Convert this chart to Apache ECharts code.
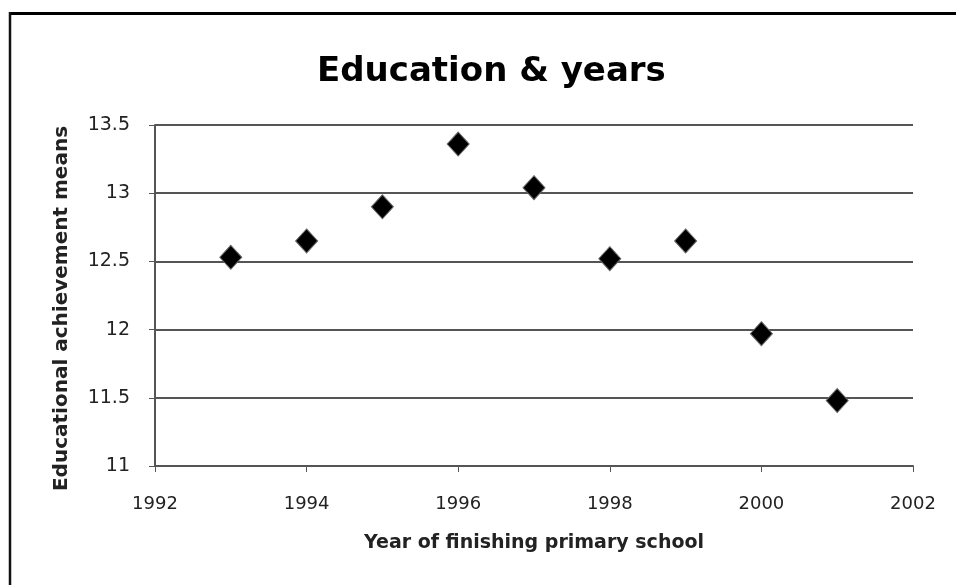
<!DOCTYPE html>
<html>
<head>
<meta charset="utf-8">
<title>Education & years</title>
<script src="https://cdn.jsdelivr.net/npm/echarts@6/dist/echarts.min.js"></script>
<style>
  html, body { margin: 0; padding: 0; background: #fff; }
  #chart { width: 956px; height: 585px; }
</style>
</head>
<body>
<div id="chart"></div>
<script>
// Year of finishing primary school
const years = [1993, 1994, 1995, 1996, 1997, 1998, 1999, 2000, 2001];
// Mean educational achievement for each year
const achievementMeans = [12.53, 12.65, 12.90, 13.36, 13.04, 12.52, 12.65, 11.97, 11.48];

const FONT = '"DejaVu Sans", "Open Sans", sans-serif';

const chart = echarts.init(document.getElementById('chart'), null, { renderer: 'canvas' });

chart.setOption({
  backgroundColor: '#ffffff',
  animation: false,
  title: {
    text: 'Education & years',
    left: 312,
    top: 50,
    textStyle: { fontFamily: FONT, fontWeight: 'bold', fontSize: 34, color: '#000' }
  },
  graphic: [
    // chart frame: top and left edges
    { type: 'line', shape: { x1: 9, y1: 13.5, x2: 956, y2: 13.5 }, style: { stroke: '#000', lineWidth: 3 } },
    { type: 'line', shape: { x1: 10, y1: 12, x2: 10, y2: 585 }, style: { stroke: '#111', lineWidth: 2.5 } }
  ],
  grid: { left: 155, right: 43, top: 125, bottom: 119 },
  xAxis: {
    type: 'value',
    min: 1992,
    max: 2002,
    interval: 2,
    name: 'Year of finishing primary school',
    nameLocation: 'middle',
    nameGap: 68,
    nameTextStyle: { fontFamily: FONT, fontWeight: 'bold', fontSize: 19, color: '#222' },
    axisLine: { show: true, lineStyle: { color: '#555', width: 2 } },
    axisTick: { show: true, length: 6, lineStyle: { color: '#555', width: 1 } },
    axisLabel: { fontFamily: FONT, fontSize: 18, color: '#222', margin: 29, formatter: v => String(v) },
    splitLine: { show: false }
  },
  yAxis: {
    type: 'value',
    min: 11,
    max: 13.5,
    interval: 0.5,
    name: 'Educational achievement means',
    nameLocation: 'middle',
    nameGap: 83,
    nameTextStyle: { fontFamily: FONT, fontWeight: 'bold', fontSize: 20, color: '#222', padding: [0, 26, 0, 0] },
    axisLine: { show: true, lineStyle: { color: '#555', width: 2 } },
    axisTick: { show: true, length: 6, lineStyle: { color: '#555', width: 1 } },
    axisLabel: { fontFamily: FONT, fontSize: 19, color: '#222', margin: 25 },
    splitLine: { show: true, lineStyle: { color: '#555', width: 2 } }
  },
  series: [{
    type: 'scatter',
    data: years.map((y, i) => [y, achievementMeans[i]]),
    symbol: 'diamond',
    symbolSize: [22, 24],
    itemStyle: { color: '#000', opacity: 1, borderColor: '#666', borderWidth: 1 }
  }]
});
</script>
</body>
</html>
